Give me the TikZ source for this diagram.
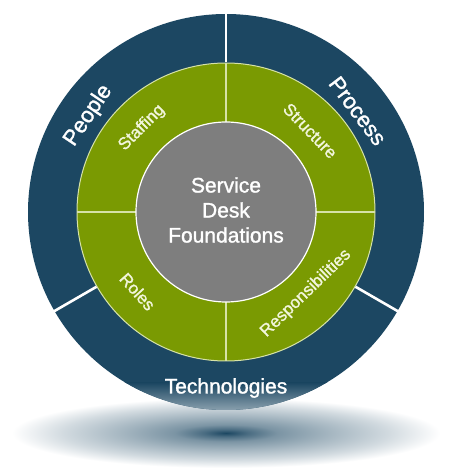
\documentclass[tikz,border=0pt]{standalone}
\usepackage{fontspec}
\setmainfont{Liberation Sans}[FakeBold=1.4]
\definecolor{ringblue}{HTML}{1C4762}
\definecolor{ringgreen}{HTML}{7A9A02}
\definecolor{coregray}{HTML}{7E7E7E}
\definecolor{greenline}{HTML}{D6E2A8}
\definecolor{greentext}{HTML}{F2F6DC}
\pgfdeclareradialshading{shadowshade}{\pgfpoint{0bp}{0bp}}{%
  color(0bp)=(ringblue);
  color(2.5bp)=(ringblue!80!white);
  color(6bp)=(ringblue!58!white);
  color(12bp)=(ringblue!40!white);
  color(19bp)=(ringblue!20!white);
  color(25bp)=(white);
  color(50bp)=(white)}
\tikzset{
  outerlbl/.style={text=white, font=\fontsize{22}{26}\selectfont, inner sep=0pt},
  innerlbl/.style={text=greentext, font=\fontsize{17}{20}\selectfont, inner sep=0pt},
  greendiv/.style={draw=greenline, line width=1.2pt},
  outerdiv/.style={draw=white, line width=2.6pt},
}
\begin{document}
\begin{tikzpicture}[x=1pt,y=1pt]
\useasboundingbox (0,0) rectangle (450,475);
\fill[white] (0,0) rectangle (450,475);
\coordinate (C) at (226,263);
\coordinate (S) at (226,42);
% shadow
\shade[shading=shadowshade] (S) ellipse [x radius=214, y radius=35];
% outer ring
\fill[ringblue] (C) circle[radius=198];
\begin{scope}
  \clip (C) circle[radius=198];
  \shade[top color=ringblue, bottom color=ringblue!50!white] (0,64) rectangle (450,92);
\end{scope}
% green ring
\fill[ringgreen] (C) circle[radius=149];
\draw[greenline, line width=1pt] (C) circle[radius=149];
\foreach \a in {0,90,180,270}
  \draw[greendiv] ([shift={(\a:90)}]C) -- ([shift={(\a:149)}]C);
\foreach \a in {90,210,330}
  \draw[outerdiv] ([shift={(\a:149.5)}]C) -- ([shift={(\a:199)}]C);
% core
\node[circle, fill=coregray, draw=white, line width=1.2pt, minimum size=180pt, inner sep=0pt] (core) at (C) {};
\node[align=center, text=white, font=\fontsize{21}{25}\selectfont] (coretext) at ([yshift=2]C) {Service\\Desk\\Foundations};
% outer labels
\node[outerlbl, rotate=56] (people) at ([shift={(145:168)}]C) {People};
\node[outerlbl, rotate=-53] (process) at ([shift={(37.5:166)}]C) {Process};
\node[outerlbl, font=\fontsize{21}{25}\selectfont] (tech) at ([shift={(270:176)}]C) {Technologies};
% inner labels
\node[innerlbl, rotate=45] (staffing) at ([shift={(135:119)}]C) {Staffing};
\node[innerlbl, rotate=-46] (structure) at ([shift={(44:117)}]C) {Structure};
\node[innerlbl, rotate=-48] (roles) at ([shift={(222:119)}]C) {Roles};
\node[innerlbl, rotate=44] (resp) at ([shift={(-45.5:114)}]C) {Responsibilities};
\end{tikzpicture}
\end{document}
